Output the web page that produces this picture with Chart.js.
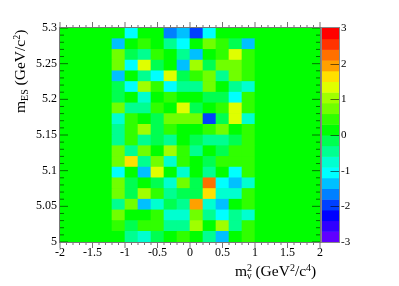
<!DOCTYPE html>
<html>
<head>
<meta charset="utf-8">
<style>
html, body { margin: 0; padding: 0; background: #fff; }
canvas { display: block; }
</style>
<script src="https://cdn.jsdelivr.net/npm/chart.js@4/dist/chart.umd.js"></script>
</head>
<body>
<canvas id="mapa" width="399" height="286"></canvas>
<script>
var binCenters = [-1.9, -1.7, -1.5, -1.3, -1.1, -0.9, -0.7, -0.5, -0.3, -0.1, 0.1, 0.3, 0.5, 0.7, 0.9, 1.1, 1.3, 1.5, 1.7, 1.9];
var massEdges = [5, 5.015, 5.03, 5.045, 5.06, 5.075, 5.09, 5.105, 5.12, 5.135, 5.15, 5.165, 5.18, 5.195, 5.21, 5.225, 5.24, 5.255, 5.27, 5.285, 5.3];
// columns outside -1.2 .. 1 are flat
var flatValue = 0.15;
var leftFlat = 4;
var rightFlat = 5;
// rows from the bottom (5.0) to the top (5.3), columns -1.2 .. 1
var filas = [
    [0.15, -0.45, -0.75, -0.15, 0.15, 0.45, 0.15, -0.45, -1.35, 0.15, 0.45],
    [0.45, -0.15, 0.45, 0.45, -0.45, -0.45, 1.05, 0.15, 1.05, -0.45, 0.45],
    [0.75, 0.15, 0.15, 0.45, -0.75, -0.75, 0.75, -0.45, -1.05, -0.45, -0.75],
    [-0.45, 0.75, -1.35, -0.75, -0.15, -0.45, 1.95, -0.75, -1.35, 0.15, 0.45],
    [0.75, -0.15, 1.05, 0.45, -0.45, -0.15, -0.15, 1.65, -0.75, -0.75, 0.45],
    [0.75, -0.15, 0.15, -0.15, -0.75, 0.75, -0.15, 2.25, -1.05, -1.35, -0.75],
    [-1.05, 0.15, -1.35, 1.35, 0.15, -0.75, 0.15, -0.45, 0.15, -1.05, 0.45],
    [0.75, 1.65, -0.45, 0.75, -0.75, 0.45, 0.15, -0.15, 0.45, 0.45, 0.45],
    [0.75, -0.45, 0.75, 0.15, 1.05, 0.45, -0.45, 0.15, -0.15, 0.45, 0.45],
    [-0.45, 0.45, -0.45, -0.15, -0.45, 0.15, -0.15, -0.45, -0.45, -0.15, 0.45],
    [-0.45, 0.45, 1.05, -0.15, 0.45, 0.15, 0.15, 0.45, 0.75, 0.15, 0.45],
    [-0.75, 0.45, 0.15, -0.15, 0.75, 0.75, 0.75, -1.95, -0.15, 1.35, -0.75],
    [0.75, -0.45, -0.45, 0.45, 0.15, 1.35, -0.15, 0.15, 0.45, 1.35, 0.45],
    [-0.15, 0.15, -0.75, 0.15, 0.45, 0.15, 0.15, -0.15, -0.15, -1.05, 0.45],
    [-0.15, -1.05, 1.05, 0.45, -1.05, -0.45, -0.45, 0.75, 0.15, -0.45, -0.75],
    [-1.35, 0.15, -0.45, -1.05, 1.35, -0.15, 0.45, 0.75, -0.45, 0.75, 0.45],
    [0.75, -1.05, 1.35, -0.15, 0.15, -1.35, 1.05, -0.15, 0.75, 0.75, 0.45],
    [0.75, -0.15, -0.45, 0.45, 0.15, -0.45, -1.35, 0.15, 0.45, 1.35, 0.45],
    [-1.35, 0.15, 0.45, 0.15, -0.45, -1.05, 0.15, 0.75, 0.45, -0.15, -1.35],
    [0.15, -1.05, 0.15, 0.15, -1.65, -1.35, -1.95, -1.05, 0.15, 0.15, 0.15]
];
// from -3 up to 3, steps of 0.3
var paleta = ['#6000ff', '#3000ff', '#0000ff', '#0040ff', '#0080ff', '#00c0ff', '#00ffff', '#00ffd0', '#00ff90', '#00ff50',
    '#00ff00', '#30ff00', '#70ff00', '#a0ff00', '#e0ff00', '#ffe000', '#ffa000', '#ff7000', '#ff3300', '#ff0000'];
var zMin = -3;
var zStep = 0.3;

var serif = '"Liberation Serif", serif';
var lineColor = 'rgba(0,0,0,0.55)';

function colorDe(v) {
    var i = Math.floor((v - zMin) / zStep);
    return paleta[Math.max(0, Math.min(paleta.length - 1, i))];
}

function filaCompleta(fila) {
    var out = [];
    for (var i = 0; i < leftFlat; i++) out.push(flatValue);
    out = out.concat(fila);
    for (var j = 0; j < rightFlat; j++) out.push(flatValue);
    return out;
}

var datasets = filas.map(function(fila, r) {
    var valores = filaCompleta(fila);
    return {
        data: binCenters.map(function(x) {
            return { x: x, y: [massEdges[r], massEdges[r + 1]] };
        }),
        backgroundColor: valores.map(colorDe),
        borderWidth: 0,
        barPercentage: 1,
        categoryPercentage: 1,
        grouped: false,
        yAxisID: 'y'
    };
});

function textoRuns(ctx, runs, x, y) {
    // runs: text, size, dy, stack (do not advance)
    var pos = x;
    runs.forEach(function(r) {
        ctx.font = r.size + 'px ' + serif;
        ctx.fillText(r.text, pos, y + (r.dy || 0));
        if (!r.stack) pos += ctx.measureText(r.text).width;
    });
}

function marcas(ctx, scale, horizontal, from, to, step, mayor, a, b) {
    var n = Math.round((to - from) / step);
    for (var i = 0; i <= n; i++) {
        var p = scale.getPixelForValue(from + i * step);
        var len = i % 5 === 0 ? mayor : mayor / 2;
        ctx.beginPath();
        if (horizontal) {
            ctx.moveTo(p, a); ctx.lineTo(p, a + len);
            ctx.moveTo(p, b); ctx.lineTo(p, b - len);
        } else {
            ctx.moveTo(a, p); ctx.lineTo(a + len, p);
            ctx.moveTo(b, p); ctx.lineTo(b - len, p);
        }
        ctx.stroke();
    }
}

var fondoYMarcos = {
    id: 'fondoYMarcos',
    beforeDatasetsDraw: function(chart) {
        var ctx = chart.ctx, a = chart.chartArea;
        ctx.save();
        ctx.fillStyle = colorDe(flatValue);
        ctx.fillRect(a.left, a.top, a.right - a.left, a.bottom - a.top);
        ctx.restore();
    },
    afterDatasetsDraw: function(chart) {
        var ctx = chart.ctx, a = chart.chartArea;
        var z = chart.scales.z;
        ctx.save();
        ctx.lineWidth = 1;
        ctx.strokeStyle = lineColor;
        marcas(ctx, chart.scales.x, true, -2, 2, 0.1, 6, a.bottom, a.top);
        marcas(ctx, chart.scales.y, false, 5, 5.3, 0.01, 8, a.left, a.right);
        ctx.strokeStyle = '#777';
        ctx.strokeRect(a.left - 0.5, a.top - 0.5, a.right - a.left + 1, a.bottom - a.top + 1);

        // color bar
        var barL = a.right + 1.5, barR = a.right + 19.5;
        paleta.forEach(function(c, i) {
            var y0 = z.getPixelForValue(zMin + i * zStep);
            var y1 = z.getPixelForValue(zMin + (i + 1) * zStep);
            ctx.fillStyle = c;
            ctx.fillRect(barL, y1, barR - barL, y0 - y1 + 0.5);
        });
        ctx.strokeStyle = lineColor;
        [-2, -1, 0, 1, 2].forEach(function(v) {
            var p = Math.round(z.getPixelForValue(v)) + 0.5;
            ctx.beginPath();
            ctx.moveTo(barR, p);
            ctx.lineTo(barR - 9, p);
            ctx.stroke();
        });
        ctx.strokeStyle = '#888';
        ctx.strokeRect(barL, a.top - 0.5, barR - barL, a.bottom - a.top + 1);

        // axis titles
        ctx.fillStyle = '#000';
        ctx.textAlign = 'left';
        ctx.textBaseline = 'alphabetic';
        textoRuns(ctx, [
            { text: 'm', size: 15.5 },
            { text: '2', size: 10, dy: -5.5, stack: true },
            { text: 'ν', size: 10, dy: 3 },
            { text: ' (GeV', size: 15.5 },
            { text: '2', size: 10, dy: -5.5 },
            { text: '/c', size: 15.5 },
            { text: '4', size: 10, dy: -5.5 },
            { text: ')', size: 15.5 }
        ], 235, 276);
        ctx.translate(25, 113);
        ctx.rotate(-Math.PI / 2);
        textoRuns(ctx, [
            { text: 'm', size: 15.5 },
            { text: 'ES', size: 10, dy: 3 },
            { text: ' (GeV/c', size: 15.5 },
            { text: '2', size: 10, dy: -5.5 },
            { text: ')', size: 15.5 }
        ], 0, 0);
        ctx.restore();
    }
};

new Chart(document.getElementById('mapa'), {
    type: 'bar',
    data: { datasets: datasets },
    plugins: [fondoYMarcos],
    options: {
        responsive: false,
        animation: false,
        layout: { padding: { top: 28 } },
        plugins: { legend: { display: false }, title: { display: false }, tooltip: { enabled: false } },
        scales: {
            x: {
                type: 'linear',
                offset: false,
                min: -2,
                max: 2,
                grid: { display: false, offset: false, drawTicks: false },
                border: { display: false },
                afterFit: function(s) { s.height = 44; },
                ticks: {
                    stepSize: 0.5,
                    padding: 4,
                    maxRotation: 0,
                    autoSkip: false,
                    color: '#000',
                    font: { family: serif, size: 12 },
                    callback: function(v) { return String(+v.toFixed(1)); }
                }
            },
            y: {
                type: 'linear',
                min: 5,
                max: 5.3,
                grid: { display: false, drawTicks: false },
                border: { display: false },
                afterFit: function(s) { s.width = 60; },
                ticks: {
                    stepSize: 0.05,
                    padding: 3,
                    autoSkip: false,
                    color: '#000',
                    font: { family: serif, size: 12 },
                    callback: function(v) { return String(+v.toFixed(2)); }
                }
            },
            z: {
                type: 'linear',
                position: 'right',
                min: -3,
                max: 3,
                grid: { display: false, drawTicks: false },
                border: { display: false },
                afterFit: function(s) { s.width = 79; },
                ticks: {
                    stepSize: 1,
                    padding: 21,
                    autoSkip: false,
                    color: '#000',
                    font: { family: serif, size: 11 }
                }
            }
        }
    }
});
</script>
</body>
</html>
